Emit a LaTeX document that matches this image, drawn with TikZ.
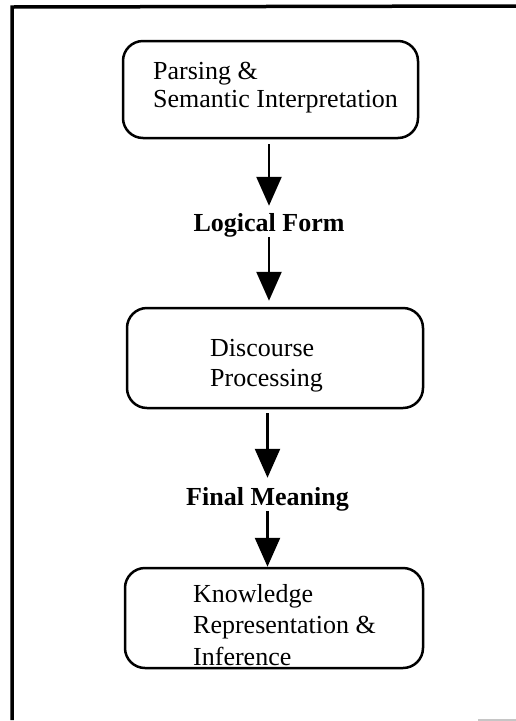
\documentclass[tikz,border=0pt]{standalone}
\usepackage{fontspec}
\setmainfont{Liberation Serif}
\usetikzlibrary{arrows.meta}
\begin{document}
\begin{tikzpicture}[x=1pt,y=-1pt,
  box/.style={draw, line width=2.5pt, rounded corners=20pt, inner sep=0pt},
  boxtext/.style={anchor=north west, inner sep=0pt, align=left},
  lbl/.style={anchor=base, inner sep=0pt, font=\fontsize{26}{30}\selectfont\bfseries},
  arr/.style={line width=2.5pt, -{Triangle[width=25pt,length=29pt]}},
  frameline/.style={line width=3.5pt}]
\useasboundingbox (0,0) rectangle (516,721);
% frame
\draw[frameline] (12,720) -- (12,7) -- (516,6);
\draw[gray!45, line width=1.5pt] (478,720) -- (516,720);
% boxes
\node[box, minimum width=295pt, minimum height=97pt] (b1) at (270.5,89.5) {};
\node[boxtext, font=\fontsize{26}{28}\selectfont] (t1) at (153,62.2) {Parsing \&\\Semantic Interpretation};
\node[box, minimum width=296pt, minimum height=100pt] (b2) at (275,358) {};
\node[boxtext, font=\fontsize{26}{30}\selectfont] (t2) at (210,339.2) {Discourse\\Processing};
\node[box, minimum width=298pt, minimum height=100pt] (b3) at (274,618) {};
\node[boxtext, font=\fontsize{26}{31.5}\selectfont] (t3) at (193,584.2) {Knowledge\\Representation \&\\Inference};
% labels
\node[lbl] (lf) at (269,231) {Logical Form};
\node[lbl] (fm) at (267.5,505) {Final Meaning};
% arrows
\draw[arr, shorten <=5pt, shorten >=7pt] (b1.south -| lf.north) -- (lf.north);
\draw[arr, shorten >=6pt] (lf.south) -- (lf.south |- b2.north);
\draw[arr, shorten <=4pt, shorten >=9pt] (b2.south -| fm.north) -- (fm.north);
\draw[arr] (fm.south) -- (fm.south |- b3.north);
\end{tikzpicture}
\end{document}
